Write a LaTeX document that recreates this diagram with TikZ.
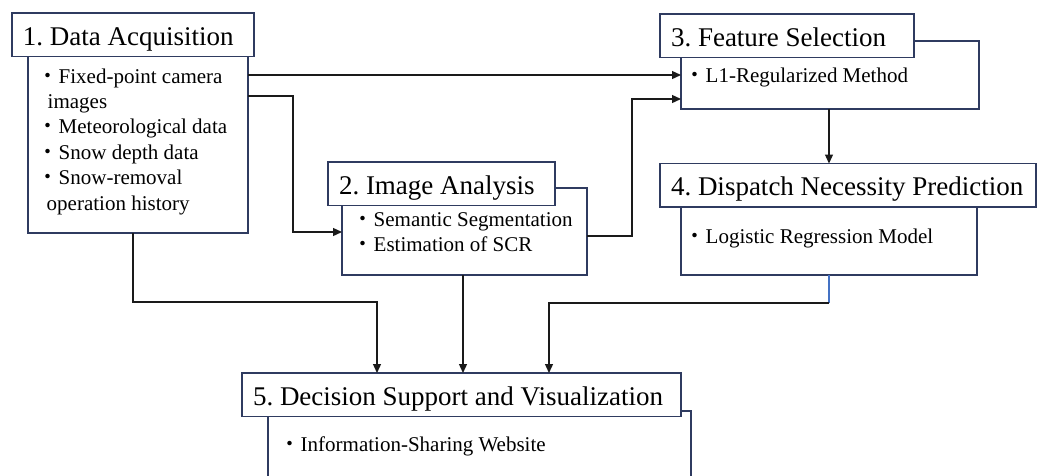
\documentclass[tikz,border=0pt]{standalone}
\usepackage{fontspec}
\setmainfont{Liberation Serif}
\newfontfamily\jpfont{Noto Sans CJK JP}
\usetikzlibrary{arrows.meta}
\definecolor{boxc}{HTML}{2F3B60}
\definecolor{arrc}{HTML}{1A1A1A}
\definecolor{bluec}{HTML}{4472C4}
\newcommand\bul{{\jpfont ・}}
\newcommand\tbox[2]{\makebox[#1][l]{#2}}
\newcommand\lines[1]{\begin{tabular}[t]{@{}l@{}}#1\end{tabular}}
\frenchspacing
\tikzset{
  bodybox/.style={draw=boxc, line width=1.4pt, fill=white, anchor=north west,
    inner sep=0pt, outer sep=0pt},
  titlebox/.style={draw=boxc, line width=1.4pt, fill=white, anchor=north west,
    inner xsep=11pt, inner ysep=0pt, outer sep=0pt,
    text height=32pt, text depth=11.5pt, font=\fontsize{27}{32}\selectfont\frenchspacing},
  bodytext/.style={anchor=base west, inner sep=0pt,
    font=\fontsize{21}{25.4}\selectfont\frenchspacing},
  arr/.style={draw=arrc, line width=1.3pt, -{Triangle[length=9pt,width=8pt]}},
  blueline/.style={draw=bluec, line width=1.3pt}
}
\begin{document}
\begin{tikzpicture}[x=1pt,y=-1pt]
\useasboundingbox (0,0) rectangle (1037,475);
\clip (0,0) rectangle (1037,475);
\fill[white] (0,0) rectangle (1037,475);

% bodies
\node[bodybox, minimum width=220pt, minimum height=177pt] (b1) at (28,56) {};
\node[bodybox, minimum width=245pt, minimum height=87pt] (b2) at (342,188) {};
\node[bodybox, minimum width=298pt, minimum height=68pt] (b3) at (681,41) {};
\node[bodybox, minimum width=296pt, minimum height=80pt] (b4) at (681,195) {};
\node[bodybox, minimum width=423pt, minimum height=90pt] (b5) at (268,411) {};

% titles
\node[titlebox] (t1) at (12,13) {\tbox{220pt}{1. Data Acquisition}};
\node[titlebox] (t2) at (328,162) {\tbox{205pt}{2. Image Analysis}};
\node[titlebox] (t3) at (660,14) {\tbox{232pt}{3. Feature Selection}};
\node[titlebox] (t4) at (660,163.5) {\tbox{354pt}{4. Dispatch Necessity Prediction}};
\node[titlebox] (t5) at (242,373) {\tbox{417pt}{5. Decision Support and Visualization}};

% body texts
\node[bodytext] (x1) at (37.5,83) {\lines{\bul Fixed-point camera\\
  \hspace*{10pt}images\\
  \bul Meteorological data\\
  \bul Snow depth data\\
  \bul Snow-removal\\
  \hspace*{9pt}operation history}};
\node[bodytext] (x2) at (352.5,226) {\lines{\bul Semantic Segmentation\\
  \bul Estimation of SCR}};
\node[bodytext] (x3) at (684.5,82) {\bul L1-Regularized Method};
\node[bodytext] (x4) at (684.5,243) {\bul Logistic Regression Model};
\node[bodytext] (x5) at (279.5,451) {\bul Information-Sharing Website};

% connectors
\draw[arr] (b1.east |- 0,75) -- (b3.west |- 0,75);
\draw[arr] (b1.east |- 0,96) -- (293,96) -- (293,232) -- (b2.west |- 0,232);
\draw[arr] (b2.east |- 0,236) -- (632,236) -- (632,99) -- (b3.west |- 0,99);
\draw[arr] (b3.south -| 829,0) -- (t4.north -| 829,0);
\draw[blueline] (b4.south -| 829,0) -- (829,303) coordinate (c4);
\draw[arr] (c4) -- (549,303) -- (t5.north -| 549,0);
\draw[arr] (b1.south -| 133,0) -- (133,302) -- (377,302) -- (t5.north -| 377,0);
\draw[arr] (b2.south -| 463,0) -- (t5.north -| 463,0);
\end{tikzpicture}
\end{document}
